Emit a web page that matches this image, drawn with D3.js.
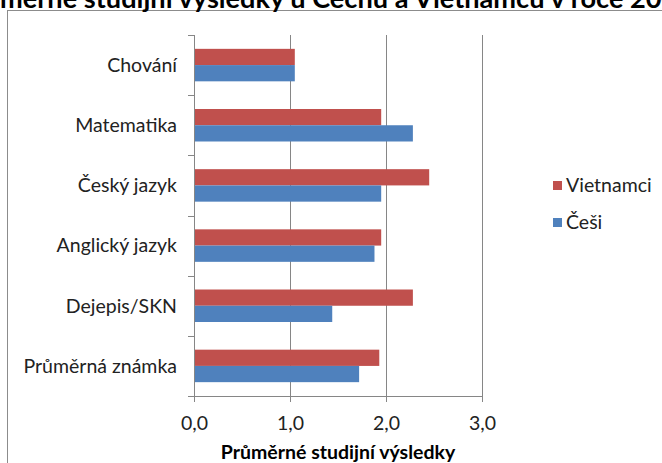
<!DOCTYPE html>
<html>
<head>
<meta charset="utf-8">
<script src="https://cdn.jsdelivr.net/npm/d3@7"></script>
<style>
    body { margin: 0; background: #fff; }
    svg { display: block; font-family: Lato, "Open Sans", sans-serif; }
</style>
</head>
<body>
<div id="chart"></div>
<script>
const categories = ["Chování", "Matematika", "Český jazyk", "Anglický jazyk", "Dejepis/SKN", "Průměrná známka"]
const seriesNames = ["Vietnamci", "Češi"]
const vietnamci = [1.05, 1.95, 2.45, 1.95, 2.28, 1.93]
const cesi = [1.05, 2.28, 1.95, 1.88, 1.44, 1.72]
const xTicks = [0, 1, 2, 3]
const titleText = "Průměrné studijní výsledky u Čechů a Vietnamců v roce 2008"
const axisTitle = "Průměrné studijní výsledky"

const colors = { "Vietnamci": "#C0504D", "Češi": "#4F81BD" }
const width = 662, height = 463
const plot = { left: 194, right: 482, top: 35, bottom: 396 }
const fontSize = "19.5px"

const data = categories.map((c, i) => ({ cat: c, "Vietnamci": vietnamci[i], "Češi": cesi[i] }))

const svg = d3.select("#chart").append("svg")
    .attr("width", width)
    .attr("height", height)

/* chart frame */
svg.append("rect")
    .attr("x", 7.5).attr("y", 10.5)
    .attr("width", 700).attr("height", 500)
    .attr("fill", "#fff")
    .attr("stroke", "#8c8c8c")

/* title - the reference only shows its lower part, cropped at the top */
function measure(str, size) {
    const t = svg.append("text").attr("font-weight", "bold").attr("font-size", size + "px").text(str)
    const w = t.node().getComputedTextLength()
    t.remove()
    return w
}
const visiblePart = "měrné studijní výsledky u Čechů a Vietnamců v roce 20"
const titleSize = 20 * 662 / measure(visiblePart, 20)
svg.append("text")
    .attr("x", -measure("Prů", titleSize))
    .attr("y", 8)
    .attr("font-weight", "bold")
    .attr("font-size", titleSize + "px")
    .attr("fill", "#000")
    .text(titleText)

const x = d3.scaleLinear().domain([0, 3]).range([plot.left, plot.right])
const y0 = d3.scaleBand().domain(categories).range([plot.top, plot.bottom])
    .paddingInner(0.46).paddingOuter(0.23)
const y1 = d3.scaleBand().domain(seriesNames).range([0, y0.bandwidth()])

/* grid lines */
svg.append("g").selectAll("line")
    .data(xTicks.slice(1))
    .join("line")
    .attr("x1", d => Math.round(x(d)) + 0.5)
    .attr("x2", d => Math.round(x(d)) + 0.5)
    .attr("y1", plot.top)
    .attr("y2", plot.bottom)
    .attr("stroke", "#868686")

/* bars */
svg.append("g").selectAll("g")
    .data(data)
    .join("g")
    .attr("transform", d => `translate(0, ${y0(d.cat)})`)
    .selectAll("rect")
    .data(d => seriesNames.map(s => ({ s, v: d[s] })))
    .join("rect")
    .attr("x", x(0))
    .attr("y", d => y1(d.s))
    .attr("width", d => x(d.v) - x(0))
    .attr("height", y1.bandwidth())
    .attr("fill", d => colors[d.s])

/* x axis */
const xAxis = svg.append("g")
    .attr("transform", `translate(0, ${plot.bottom})`)
    .call(d3.axisBottom(x).tickValues(xTicks).tickSize(6).tickPadding(14)
        .tickFormat(d => d3.format(".1f")(d).replace(".", ",")))
xAxis.select(".domain").attr("stroke", "#868686")
xAxis.selectAll(".tick line").attr("stroke", "#868686")
xAxis.selectAll("text").attr("font-size", fontSize).attr("fill", "#222").attr("font-family", "Lato, sans-serif")

/* y axis */
const yAxis = svg.append("g").attr("transform", `translate(${plot.left}, 0)`)
yAxis.append("line")
    .attr("x1", 0.5).attr("x2", 0.5)
    .attr("y1", plot.top).attr("y2", plot.bottom)
    .attr("stroke", "#868686")
const step = y0.step()
yAxis.selectAll(".ytick")
    .data(d3.range(categories.length + 1))
    .join("line")
    .attr("class", "ytick")
    .attr("x1", -6).attr("x2", 0)
    .attr("y1", i => Math.round(plot.top + i * step) + 0.5)
    .attr("y2", i => Math.round(plot.top + i * step) + 0.5)
    .attr("stroke", "#868686")
yAxis.selectAll(".ylab")
    .data(categories)
    .join("text")
    .attr("class", "ylab")
    .attr("x", -17)
    .attr("y", d => y0(d) + y0.bandwidth() / 2)
    .attr("dy", "0.35em")
    .attr("text-anchor", "end")
    .attr("font-size", fontSize)
    .attr("fill", "#222")
    .text(d => d)

/* axis title */
svg.append("text")
    .attr("x", (plot.left + plot.right) / 2)
    .attr("y", 459)
    .attr("text-anchor", "middle")
    .attr("font-weight", "bold")
    .attr("font-size", fontSize)
    .attr("fill", "#000")
    .text(axisTitle)

/* legend */
const legend = svg.append("g").selectAll("g")
    .data(seriesNames)
    .join("g")
    .attr("transform", (d, i) => `translate(553, ${185 + i * 37})`)
legend.append("rect")
    .attr("x", 0).attr("y", -4)
    .attr("width", 9).attr("height", 9)
    .attr("fill", d => colors[d])
legend.append("text")
    .attr("x", 13)
    .attr("dy", "0.35em")
    .attr("font-size", fontSize)
    .attr("fill", "#222")
    .text(d => d)
</script>
</body>
</html>
